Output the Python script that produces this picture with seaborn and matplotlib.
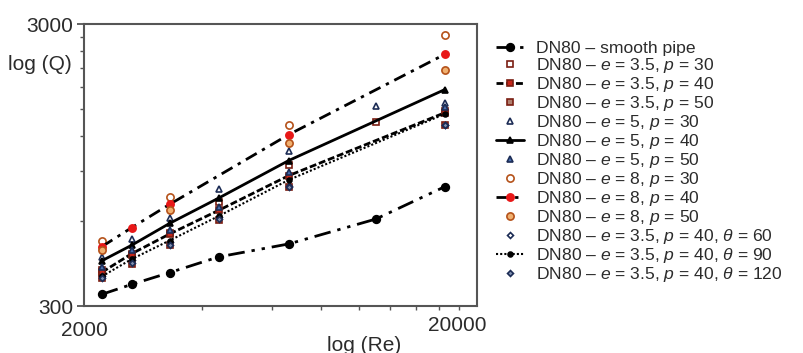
import numpy as np
import pandas as pd
import matplotlib
matplotlib.use("Agg")
import matplotlib.pyplot as plt
import seaborn as sns
from matplotlib.ticker import FixedLocator, NullFormatter

# ---------------- data ----------------
smooth_x = [2220, 2646, 3302, 4401, 6638, 11050, 16570]
smooth_q = [330, 358, 394, 448, 498, 610, 795]

e35p30_x = [2220, 2646, 3302, 4401, 6638, 11050, 16570]
e35p30_q = [401, 454, 543, 700, 945, 1343, 1480]
e35p40_x = [2220, 2646, 3302, 4401, 6638, 16570]
e35p40_q = [395, 460, 540, 655, 870, 1454]
e35p50_x = [2220, 2646, 3302, 4401, 6638, 16570]
e35p50_q = [377, 422, 493, 605, 795, 1314]

e5p30_x = [2220, 2646, 3302, 4401, 6638, 11050, 16570]
e5p30_q = [447, 518, 617, 780, 1063, 1536, 1570]
e5p40_x = [2220, 2646, 3302, 4401, 6638, 16570]
e5p40_q = [434, 493, 589, 724, 984, 1757]
e5p50_x = [2220, 2646, 3302, 4401, 6638, 16570]
e5p50_q = [411, 474, 559, 674, 896, 1520]

e8p30_x = [2220, 3302, 6638, 16570]
e8p30_q = [510, 731, 1320, 2740]
e8p40_x = [2220, 2646, 3302, 6638, 16570]
e8p40_q = [487, 569, 688, 1216, 2343]
e8p50_x = [2220, 3302, 6638, 16570]
e8p50_q = [474, 657, 1135, 2062]

t60_x = [2220, 2646, 3302, 4401, 6638, 16570]
t60_q = [383, 437, 507, 621, 800, 1320]
t90_x = [2220, 2646, 3302, 4401, 6638, 16570]
t90_q = [382, 440, 512, 625, 840, 1440]
t120_x = [2220, 2646, 3302, 4401, 6638, 16570]
t120_q = [378, 425, 495, 610, 795, 1314]

x_tick_labels = ["2000", "20000"]
y_tick_labels = ["300", "3000"]

labels = [
    "DN80 – smooth pipe",
    "DN80 – $e$ = 3.5, $p$ = 30",
    "DN80 – $e$ = 3.5, $p$ = 40",
    "DN80 – $e$ = 3.5, $p$ = 50",
    "DN80 – $e$ = 5, $p$ = 30",
    "DN80 – $e$ = 5, $p$ = 40",
    "DN80 – $e$ = 5, $p$ = 50",
    "DN80 – $e$ = 8, $p$ = 30",
    "DN80 – $e$ = 8, $p$ = 40",
    "DN80 – $e$ = 8, $p$ = 50",
    "DN80 – $e$ = 3.5, $p$ = 40, $\\theta$ = 60",
    "DN80 – $e$ = 3.5, $p$ = 40, $\\theta$ = 90",
    "DN80 – $e$ = 3.5, $p$ = 40, $\\theta$ = 120",
]

# ---------------- style ----------------
sns.set_theme(style="white")
plt.rcParams["font.family"] = ["Liberation Sans", "DejaVu Sans"]
plt.rcParams["mathtext.fontset"] = "custom"
plt.rcParams["mathtext.it"] = "Liberation Sans:italic"
plt.rcParams["mathtext.rm"] = "Liberation Sans"
TXT = "#2b2b2b"
AXC = "#555555"

fig = plt.figure(figsize=(8.04, 3.53), dpi=100)
ax = fig.add_axes([84 / 804, 1 - 306 / 353, (477 - 84) / 804, (306 - 24) / 353])

series = [
    # x, q, line style, marker, size, face, edge, lw, zorder
    (smooth_x, smooth_q, (0, (6, 2.5, 1.2, 2.5, 1.2, 2.5)), "o", 5.5, "black", "black", 2.0, 3),
    (e35p30_x, e35p30_q, "none", "s", 4.2, "white", "#7a1e12", 1.2, 4),
    (e35p40_x, e35p40_q, (0, (2.5, 1.0)), "s", 4.2, "#c4261a", "#7a1e12", 2.0, 4),
    (e35p50_x, e35p50_q, "none", "s", 4.2, "#b08070", "#7a1e12", 1.2, 4),
    (e5p30_x, e5p30_q, "none", "^", 4.8, "white", "#1c2c55", 1.2, 5),
    (e5p40_x, e5p40_q, "-", "^", 4.8, "black", "black", 2.0, 5),
    (e5p50_x, e5p50_q, "none", "^", 4.8, "#4a6fb0", "#1c2c55", 1.2, 5),
    (e8p30_x, e8p30_q, "none", "o", 5.2, "white", "#b5521a", 1.5, 5),
    (e8p40_x, e8p40_q, (0, (4.5, 2.2, 1.2, 2.2)), "o", 5.2, "#e81818", "#e81818", 2.0, 5),
    (e8p50_x, e8p50_q, "none", "o", 5.2, "#f0b070", "#b5521a", 1.5, 5),
    (t60_x, t60_q, "none", "D", 3.0, "white", "#1c2c55", 1.0, 6),
    (t90_x, t90_q, (0, (1, 1)), "o", 3.5, "black", "black", 1.5, 6),
    (t120_x, t120_q, "none", "D", 3.0, "#8090b0", "#1c2c55", 1.0, 6),
]

handles = []
for (xs, qs, ls, mk, ms, fc, ec, lw, z), lab in zip(series, labels):
    df = pd.DataFrame({"Re": xs, "Q": qs})
    sns.lineplot(data=df, x="Re", y="Q", ax=ax, color="black",
                 linestyle=ls, linewidth=lw if ls != "none" else 0,
                 marker=mk, markersize=ms, markerfacecolor=fc,
                 markeredgecolor=ec, markeredgewidth=1.2,
                 zorder=z, label=lab, sort=False, legend=False)
    handles.append(ax.lines[-1])

ax.set_xscale("log")
ax.set_yscale("log")
ax.set_xlim(2000, 20000)
ax.set_ylim(300, 3000)

ax.xaxis.set_major_locator(FixedLocator([2000]))
ax.xaxis.set_minor_locator(FixedLocator(list(range(4000, 20000, 2000))))
ax.yaxis.set_major_locator(FixedLocator([300, 3000]))
ax.yaxis.set_minor_locator(FixedLocator(list(range(600, 3000, 300))))
ax.xaxis.set_minor_formatter(NullFormatter())
ax.yaxis.set_minor_formatter(NullFormatter())
ax.set_xticklabels(x_tick_labels[:1])
ax.set_yticklabels(y_tick_labels)

ax.tick_params(axis="both", which="both", bottom=True, left=True, top=False, right=False)
ax.tick_params(axis="y", which="major", direction="out", length=5, width=1.3,
               colors=AXC, labelcolor=TXT, labelsize=15, pad=3)
ax.tick_params(axis="both", which="minor", direction="out", length=3, width=1.0, colors=AXC)
ax.tick_params(axis="x", which="major", length=0, pad=11, colors=AXC,
               labelcolor=TXT, labelsize=15)

for s in ax.spines.values():
    s.set_visible(True)
    s.set_color(AXC)
    s.set_linewidth(1.5)

ax.set_xlabel("")
ax.set_ylabel("")
ax.text(0.949, -0.035, x_tick_labels[1], transform=ax.transAxes, ha="center", va="top",
        fontsize=15, color=TXT)
ax.text(0.714, -0.105, "log (Re)", transform=ax.transAxes, ha="center", va="top",
        fontsize=15, color=TXT)
ax.text(-0.03, 0.857, "log (Q)", transform=ax.transAxes, ha="right", va="center",
        fontsize=15, color=TXT)

leg = fig.legend(handles=handles, labels=labels, loc="upper left",
                 bbox_to_anchor=(496 / 804, 1 - 41 / 353), frameon=False,
                 fontsize=12.6, handlelength=1.6, handletextpad=0.7,
                 labelspacing=0.0, borderaxespad=0, borderpad=0)
for t in leg.get_texts():
    t.set_color(TXT)

fig.savefig("out.png", dpi=100, facecolor="white")
